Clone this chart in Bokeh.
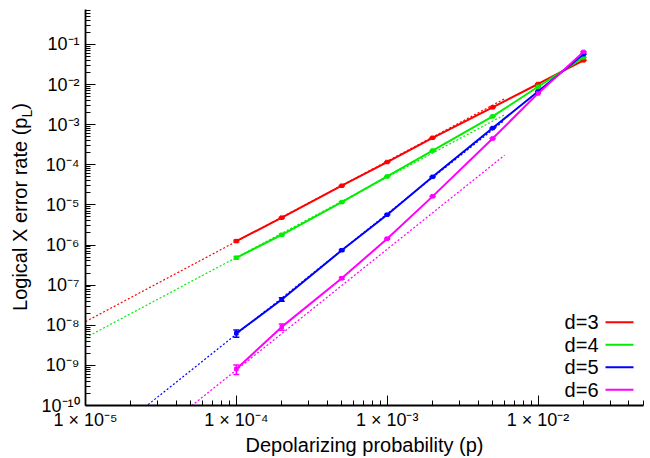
from bokeh.plotting import figure
from bokeh.layouts import row
from bokeh.models import (ColumnDataSource, FixedTicker, CustomJSTickFormatter, Label,
                          BoxAnnotation, Whisker, TeeHead, Range1d, Div)
from bokeh.embed import file_html
from bokeh.resources import INLINE

# ---------------- data ----------------
p_vals = [1e-4, 2e-4, 5e-4, 1e-3, 2e-3, 5e-3, 1e-2, 2e-2]
d3 = [1.25e-6, 4.8e-6, 3.0e-5, 1.17e-4, 4.7e-4, 2.7e-3, 1.03e-2, 4.0e-2]
d4 = [4.8e-7, 1.8e-6, 1.17e-5, 5.1e-5, 2.25e-4, 1.6e-3, 8.8e-3, 4.75e-2]
d5 = [6.3e-9, 4.4e-8, 7.4e-7, 5.7e-6, 5.0e-5, 8.2e-4, 6.7e-3, 5.7e-2]
d6 = [8.1e-10, 9.1e-9, 1.48e-7, 1.44e-6, 1.63e-5, 4.5e-4, 6.0e-3, 6.5e-2]

# relative error bars
d3_err = [0.05, 0.03, 0.02, 0.01, 0.01, 0.01, 0.01, 0.01]
d4_err = [0.07, 0.04, 0.02, 0.01, 0.01, 0.01, 0.01, 0.01]
d5_err = [0.20, 0.10, 0.04, 0.02, 0.01, 0.01, 0.01, 0.01]
d6_err = [0.27, 0.18, 0.06, 0.03, 0.02, 0.01, 0.01, 0.01]

# fitted (dashed) lines: endpoints
fit_p = [1e-5, 6e-3]
fit3 = [1.23e-8, 4.4e-3]
fit4 = [4.9e-9, 1.76e-3]
fit5 = [6.0e-12, 1.29e-3]
fit6 = [7.5e-13, 1.73e-4]

legend_labels = ["d=3", "d=4", "d=5", "d=6"]
colors = ["#ff0000", "#00ee00", "#0000ff", "#ff00ff"]

x_ticks = [1e-5, 1e-4, 1e-3, 1e-2]
x_tick_labels = ["1 \u00d7 10\u207b\u2075", "1 \u00d7 10\u207b\u2074",
                 "1 \u00d7 10\u207b\u00b3", "1 \u00d7 10\u207b\u00b2"]
y_ticks = [1e-10, 1e-9, 1e-8, 1e-7, 1e-6, 1e-5, 1e-4, 1e-3, 1e-2, 1e-1]
y_tick_labels = ["10\u207b\u00b9\u2070", "10\u207b\u2079", "10\u207b\u2078", "10\u207b\u2077",
                 "10\u207b\u2076", "10\u207b\u2075", "10\u207b\u2074", "10\u207b\u00b3",
                 "10\u207b\u00b2", "10\u207b\u00b9"]

x_label = "Depolarizing probability (p)"
y_label_main = "Logical X error rate (p"
y_label_sub = "L"
y_label_end = ")"

FONT = "Liberation Sans"
DIV_W = 36
TOTAL_W, TOTAL_H = 648, 458

p = figure(width=TOTAL_W - DIV_W, height=TOTAL_H, x_axis_type="log", y_axis_type="log",
           x_range=Range1d(1e-5, 0.05), y_range=Range1d(1e-10, 0.74),
           output_backend="svg", toolbar_location=None,
           min_border_left=85 - DIV_W, min_border_right=5, min_border_top=9,
           min_border_bottom=TOTAL_H - 405)
p.outline_line_color = None
p.grid.visible = False
p.background_fill_color = "white"
p.border_fill_color = "white"


def minors(lo_exp, hi_exp, last=None):
    out = []
    for e in range(lo_exp, hi_exp):
        for k in range(2, 10):
            v = k * 10.0 ** e
            if last is None or v <= last * 1.0001:
                out.append(v)
    return out


p.xaxis.ticker = FixedTicker(ticks=x_ticks, minor_ticks=minors(-5, -1, 0.05))
p.yaxis.ticker = FixedTicker(ticks=y_ticks, minor_ticks=minors(-10, 0, 0.74))

fmt_code = """
for (let i = 0; i < ticks_.length; i++) {
  if (Math.abs(Math.log10(tick) - Math.log10(ticks_[i])) < 1e-6) return labels[i];
}
return "";
"""
p.xaxis.formatter = CustomJSTickFormatter(args=dict(ticks_=x_ticks, labels=x_tick_labels), code=fmt_code)
p.yaxis.formatter = CustomJSTickFormatter(args=dict(ticks_=y_ticks, labels=y_tick_labels), code=fmt_code)

for ax in (p.xaxis, p.yaxis):
    ax.axis_line_width = 1.8
    ax.axis_line_color = "black"
    ax.major_tick_in = 10
    ax.major_tick_out = 0
    ax.minor_tick_in = 5
    ax.minor_tick_out = 0
    ax.major_tick_line_color = "black"
    ax.minor_tick_line_color = "black"
    ax.major_label_text_font = FONT
    ax.major_label_text_font_size = "18px"
    ax.major_label_text_color = "black"

p.xaxis.major_label_standoff = 4
p.yaxis.major_label_standoff = 6
p.xaxis.axis_label = x_label
p.xaxis.axis_label_text_font = FONT
p.xaxis.axis_label_text_font_size = "20px"
p.xaxis.axis_label_text_font_style = "normal"
p.xaxis.axis_label_text_color = "black"
p.xaxis.axis_label_standoff = 1

series = [d3, d4, d5, d6]
errs = [d3_err, d4_err, d5_err, d6_err]
fits = [fit3, fit4, fit5, fit6]

for fy, c in zip(fits, colors):
    p.line(fit_p, fy, line_color=c, line_width=1.2, line_dash="2 2")

for ys, es, c in zip(series, errs, colors):
    src = ColumnDataSource(dict(x=p_vals, y=ys,
                                lo=[v * (1 - e) for v, e in zip(ys, es)],
                                hi=[v * (1 + e) for v, e in zip(ys, es)]))
    p.line("x", "y", source=src, line_color=c, line_width=2)
    p.scatter("x", "y", source=src, marker="square", size=3.5, fill_color=c, line_color=c)
    w = Whisker(source=src, base="x", upper="hi", lower="lo", dimension="height",
                line_color=c, line_width=1.5,
                upper_head=TeeHead(size=6, line_color=c, line_width=1.5),
                lower_head=TeeHead(size=6, line_color=c, line_width=1.5))
    p.add_layout(w)

# legend (label then line sample, bottom right)
for i, (lab, c) in enumerate(zip(legend_labels, colors)):
    yc = 321.7 + i * 22.5
    p.add_layout(Label(x=598 - DIV_W, y=yc, x_units="canvas", y_units="canvas", text=lab,
                       text_font=FONT, text_font_size="20px", text_align="right",
                       text_baseline="middle", text_color="black"))
    p.add_layout(BoxAnnotation(left=605 - DIV_W, right=633 - DIV_W, top=yc - 1, bottom=yc + 1,
                               left_units="canvas", right_units="canvas",
                               top_units="canvas", bottom_units="canvas",
                               fill_color=c, fill_alpha=1.0, line_alpha=0))

# rotated y-axis title with a real subscript
ylab_html = (
    f'<div style="position:relative;width:{DIV_W}px;height:{TOTAL_H}px;overflow:visible;">'
    '<div style="position:absolute;left:21px;top:207px;'
    'transform:translate(-50%,-50%) rotate(-90deg);white-space:nowrap;'
    f"font-family:'{FONT}';font-size:20px;line-height:22px;color:black;\">"
    f'{y_label_main}<span style="font-size:14px;position:relative;top:5px;">{y_label_sub}</span>{y_label_end}'
    '</div></div>'
)
ylab = Div(text=ylab_html, width=DIV_W, height=TOTAL_H, margin=0)

layout = row(ylab, p, spacing=0)
open("out.html", "w").write(file_html(layout, INLINE))
